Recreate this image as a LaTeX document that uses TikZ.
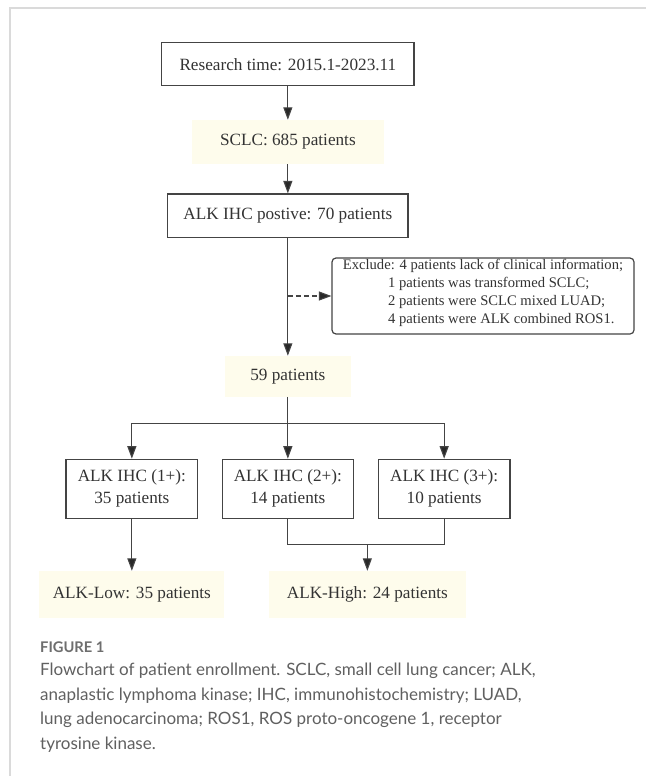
\documentclass[tikz,border=0pt]{standalone}
\usepackage{fontspec}
\setmainfont{Liberation Serif}
\newfontfamily\capfont{Lato}
\usetikzlibrary{arrows.meta}
\definecolor{fillY}{RGB}{254,252,236}
\definecolor{lineC}{RGB}{68,68,68}
\definecolor{tipC}{RGB}{40,40,40}
\definecolor{txtC}{RGB}{51,51,51}
\definecolor{frameC}{RGB}{218,218,218}
\definecolor{capC}{RGB}{96,96,96}
\definecolor{figC}{RGB}{110,110,110}
\begin{document}
\begin{tikzpicture}[x=1pt,y=-1pt,
  every node/.style={font=\fontsize{17.2}{22}\selectfont, text=txtC, inner sep=0pt},
  plainbox/.style={draw=lineC, line width=1.2pt},
  yellowbox/.style={fill=fillY},
  arr/.style={draw=lineC, line width=1.1pt, -{Triangle[length=12.5pt,width=9pt,fill=tipC]}},
  dasharr/.style={arr, dash pattern=on 5pt off 3pt},
  link/.style={draw=lineC, line width=1.1pt},
  frameline/.style={draw=frameC, line width=1.6pt},
  captext/.style={font=\capfont\fontsize{17}{24.6}\selectfont, text=capC, align=left, anchor=base west},
  figlabel/.style={font=\capfont\bfseries\fontsize{14.7}{18}\selectfont, text=figC, anchor=base west}
  ]
\useasboundingbox (0,0) rectangle (646,776);
\fill[white] (0,0) rectangle (646,776);
\draw[frameline] (10,776) -- (10,8) -- (646,8);

% nodes
\node[plainbox, minimum width=252.3pt, minimum height=43pt] (research) at (287.85,64.2) {Research time: 2015.1-2023.11};
\node[yellowbox, minimum width=192.3pt, minimum height=44pt] (sclc) at (287.85,142) {SCLC: 685 patients};
\node[plainbox, minimum width=240.3pt, minimum height=43.3pt] (alk) at (287.85,215.65) {ALK IHC postive: 70 patients};
\node[plainbox, rounded corners=4pt, minimum width=302pt, minimum height=76pt] (excl) at (483,296) {};
\node[align=left, font=\fontsize{14.6}{18}\selectfont] (excltext) at ([yshift=3pt]excl.center)
  {Exclude: 4 patients lack of clinical information;\\
   \hspace*{45.3pt}1 patients was transformed SCLC;\\
   \hspace*{45.3pt}2 patients were SCLC mixed LUAD;\\
   \hspace*{45.3pt}4 patients were ALK combined ROS1.};
\node[yellowbox, minimum width=125.7pt, minimum height=40.7pt] (p59) at (287.85,376.3) {59 patients};
\node[plainbox, minimum width=131.7pt, minimum height=59pt, align=center] (b1) at (131.85,488.8) {ALK IHC (1+):\\35 patients};
\node[plainbox, minimum width=131pt, minimum height=59pt, align=center] (b2) at (287.85,488.8) {ALK IHC (2+):\\14 patients};
\node[plainbox, minimum width=131.7pt, minimum height=59pt, align=center] (b3) at (444.15,488.8) {ALK IHC (3+):\\10 patients};
\node[yellowbox, minimum width=185pt, minimum height=46.7pt] (low) at (131.85,594.35) {ALK-Low: 35 patients};
\node[yellowbox, minimum width=196.7pt, minimum height=46.7pt] (high) at (367.35,594.35) {ALK-High: 24 patients};

% connectors
\draw[arr] (research) -- (sclc);
\draw[arr] (sclc) -- (alk);
\draw[arr] (alk) -- (p59);
\coordinate (dstart) at (287.85,296);
\draw[dasharr] (dstart) -- (excl.west);
\coordinate (br) at (287.85,423.3);
\draw[link] (p59.south) -- (br);
\draw[arr] (br) -| (b1.north);
\draw[arr] (br) -| (b3.north);
\draw[arr] (br) -- (b2.north);
\draw[arr] (b1) -- (low);
\coordinate (mg) at (367.35,544.3);
\draw[link] (b2.south) |- (mg) -| (b3.south);
\draw[arr] (mg) -- (high.north);

% caption
\node[figlabel] (figlab) at (40,652.3) {FIGURE 1};
\node[captext] (cap) at (40,749.5) {Flowchart of patient enrollment. SCLC, small cell lung cancer; ALK,\\
anaplastic lymphoma kinase; IHC, immunohistochemistry; LUAD,\\
lung adenocarcinoma; ROS1, ROS proto-oncogene 1, receptor\\
tyrosine kinase.};
\end{tikzpicture}
\end{document}
